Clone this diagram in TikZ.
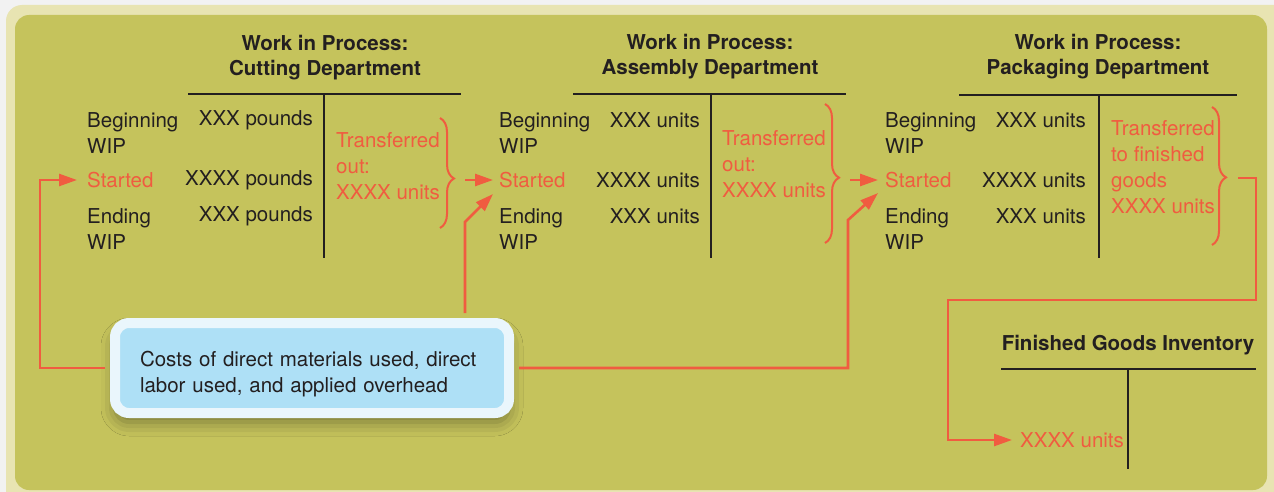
\documentclass[tikz,border=0pt]{standalone}
\usepackage{fontspec}
\setmainfont{TeX Gyre Heros}
\usetikzlibrary{arrows.meta,decorations.pathreplacing,shadows.blur,calc}

\definecolor{pagegray}{RGB}{242,242,242}
\definecolor{framecream}{RGB}{232,228,178}
\definecolor{panelgreen}{RGB}{197,195,92}
\definecolor{flowred}{RGB}{240,92,64}
\definecolor{inkblack}{RGB}{35,31,32}
\definecolor{boxblue}{RGB}{174,224,246}
\definecolor{boxrim}{RGB}{234,246,252}

\begin{document}
\begin{tikzpicture}[x=1pt, y=-1pt, >={Triangle[length=18pt,width=12pt]},
    every node/.style={inner sep=0pt, font=\fontsize{20.5}{26}\selectfont, text=inkblack},
    title/.style={font=\fontsize{20.5}{25}\selectfont\bfseries, align=center},
    lbl/.style={anchor=west, align=left},
    amt/.style={anchor=east},
    hot/.style={text=flowred},
    taccount/.style={line width=2.4pt, inkblack},
    flow/.style={line width=2.6pt, flowred},
    bracket/.style={line width=2pt, flowred, decorate,
        decoration={brace, amplitude=14pt, aspect=#1}},
    costbox/.style={fill=boxblue, draw=boxrim, line width=10pt, rounded corners=14pt,
        minimum width=394pt, minimum height=90pt, text width=344pt, inner xsep=25pt,
        align=left, blur shadow={shadow xshift=0pt, shadow yshift=-9pt,
        shadow blur radius=14pt, shadow opacity=40}}]

    % page and panel
    \fill[pagegray] (0,0) rectangle (1274,492);
    \useasboundingbox (0,0) rectangle (1274,492);
    \fill[framecream, rounded corners=16pt] (6,5) rectangle (1300,520);
    \fill[panelgreen, rounded corners=14pt] (15,15) rectangle (1267,490);

    % Cutting Department
    \node[title] (cutTitle) at (325,58) {Work in Process:\\Cutting Department};
    \draw[taccount] (188,94) -- (461,94);
    \draw[taccount] (324,94) -- (324,258);
    \node[lbl] (cutBeg) at (87,133) {Beginning\\WIP};
    \node[amt] (cutBegAmt) at (313,120) {XXX pounds};
    \node[lbl, hot] (cutStarted) at (87,180) {Started};
    \node[amt] (cutStartAmt) at (313,180) {XXXX pounds};
    \node[lbl] (cutEnd) at (87,229) {Ending\\WIP};
    \node[amt] (cutEndAmt) at (313,216) {XXX pounds};
    \node[lbl, hot] (cutOut) at (336,166) {Transferred\\out:\\XXXX units};
    \draw[bracket=0.55] (440,118) -- (440,228);

    % Assembly Department
    \node[title] (asmTitle) at (710,57) {Work in Process:\\Assembly Department};
    \draw[taccount] (573,94) -- (846,94);
    \draw[taccount] (711,94) -- (711,258);
    \node[lbl] (asmBeg) at (499,133) {Beginning\\WIP};
    \node[amt] (asmBegAmt) at (700,120) {XXX units};
    \node[lbl, hot] (asmStarted) at (499,180) {Started};
    \node[amt] (asmStartAmt) at (700,180) {XXXX units};
    \node[lbl] (asmEnd) at (499,229) {Ending\\WIP};
    \node[amt] (asmEndAmt) at (700,216) {XXX units};
    \node[lbl, hot] (asmOut) at (722,164) {Transferred\\out:\\XXXX units};
    \draw[bracket=0.53] (825,104) -- (825,243);

    % Packaging Department
    \node[title] (pkgTitle) at (1098,57) {Work in Process:\\Packaging Department};
    \draw[taccount] (959,95) -- (1237,95);
    \draw[taccount] (1099,95) -- (1099,258);
    \node[lbl] (pkgBeg) at (885,133) {Beginning\\WIP};
    \node[amt] (pkgBegAmt) at (1086,120) {XXX units};
    \node[lbl, hot] (pkgStarted) at (885,180) {Started};
    \node[amt] (pkgStartAmt) at (1086,180) {XXXX units};
    \node[lbl] (pkgEnd) at (885,229) {Ending\\WIP};
    \node[amt] (pkgEndAmt) at (1086,216) {XXX units};
    \node[lbl, hot] (pkgOut) at (1111,167) {Transferred\\to finished\\goods\\XXXX units};
    \draw[bracket=0.51] (1212,107) -- (1212,245);

    % Finished Goods Inventory
    \node[title] (fgTitle) at (1128,345) {Finished Goods Inventory};
    \node[lbl, hot] (fgUnits) at (1020,440) {XXXX units};
    \draw[taccount] (1001,369) -- (1256,369);
    \draw[taccount] (1128,369) -- (1128,469);

    % Cost box
    \node[costbox] (costBox) at (312,368)
        {\rule{0pt}{27pt}Costs of direct materials used, direct\\labor used, and applied overhead};

    % bend points
    \coordinate (cutBend) at (40,180);
    \coordinate (asmBend) at (465,222);
    \coordinate (pkgBend) at (848,220);
    \coordinate (cutTip) at (465,180);
    \coordinate (asmTip) at (850,180);
    \coordinate (pkgTip) at (1238,178);
    \coordinate (fgTurn) at (1256,300);
    \coordinate (fgBend) at (948,440);

    % costs feed each department
    \draw[flow, ->, shorten <=5pt, shorten >=10pt] (costBox.west) -| (cutBend) -- (cutStarted.west);
    \draw[flow, ->, shorten <=5pt] (costBox.north -| asmBend) -- (asmBend) -- ([shift={(-6,6)}]asmStarted.south west);
    \draw[flow, ->, shorten <=5pt] (costBox.east) -| (pkgBend) -- ([shift={(-7,5)}]pkgStarted.south west);

    % transfers out
    \draw[flow, ->, shorten >=6pt] (cutTip) -- (asmStarted.west);
    \draw[flow, ->, shorten >=7pt] (asmTip) -- (pkgStarted.west);
    \draw[flow, ->, shorten >=8pt] (pkgTip) -| (fgTurn) -| (fgBend) -- (fgUnits.west);
\end{tikzpicture}
\end{document}
